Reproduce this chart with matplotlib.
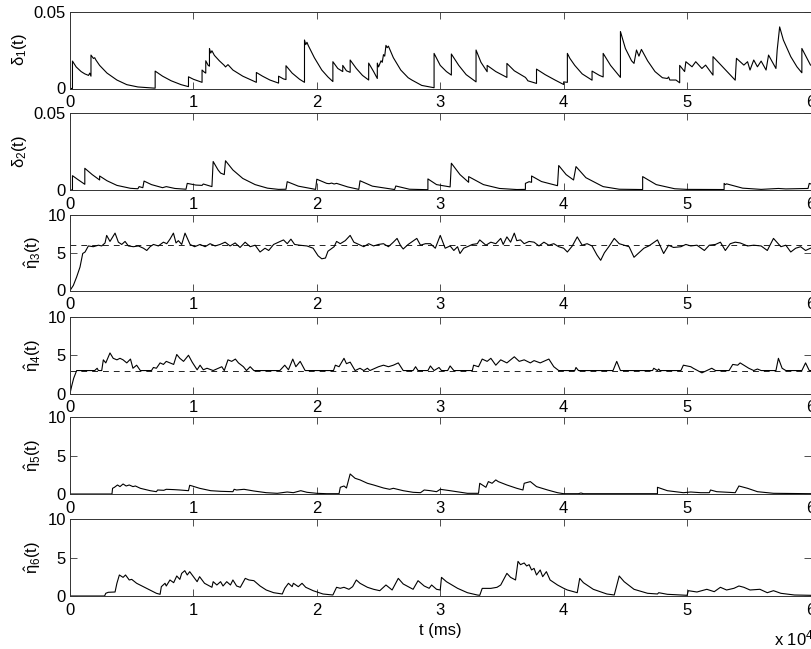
import numpy as np
import matplotlib
matplotlib.use("Agg")
import matplotlib.pyplot as plt

plt.rcParams["font.family"] = ["Liberation Sans", "DejaVu Sans"]
plt.rcParams["mathtext.fontset"] = "custom"
plt.rcParams["mathtext.rm"] = "Liberation Sans"
plt.rcParams["mathtext.it"] = "Liberation Sans"
plt.rcParams["font.size"] = 12

# time in units of 1e4 ms
delta1 = [(0.00, 0), (0.02, 0), (0.02, 0.0178), (0.05, 0.0140), (0.09, 0.0110), (0.12, 0.0095),
          (0.15, 0.0085), (0.16, 0.0100), (0.17, 0.0080), (0.17, 0.0217), (0.19, 0.0195), (0.20, 0.0200),
          (0.21, 0.0185), (0.24, 0.0150), (0.30, 0.0100), (0.38, 0.0055), (0.46, 0.0025), (0.55, 0.0010),
          (0.69, 0.0002), (0.69, 0.0113), (0.75, 0.0080), (0.82, 0.0050), (0.90, 0.0025), (0.96, 0.0012),
          (0.96, 0.0076), (1.00, 0.0060), (1.07, 0.0040), (1.07, 0.0120), (1.09, 0.0105), (1.10, 0.0100),
          (1.10, 0.0180), (1.12, 0.0150), (1.13, 0.0145), (1.13, 0.0260), (1.14, 0.0230), (1.15, 0.0245),
          (1.17, 0.0215), (1.21, 0.0180), (1.25, 0.0150), (1.26, 0.0140), (1.28, 0.0155), (1.32, 0.0120),
          (1.40, 0.0080), (1.51, 0.0040), (1.51, 0.0104), (1.56, 0.0080), (1.62, 0.0055), (1.69, 0.0035),
          (1.69, 0.0080), (1.73, 0.0062), (1.75, 0.0058), (1.75, 0.0148), (1.80, 0.0100), (1.86, 0.0060),
          (1.90, 0.0040), (1.90, 0.0315), (1.91, 0.0285), (1.92, 0.0300), (1.93, 0.0280), (1.98, 0.0200),
          (2.04, 0.0120), (2.09, 0.0075), (2.13, 0.0045), (2.13, 0.0174), (2.17, 0.0130), (2.21, 0.0110),
          (2.21, 0.0150), (2.24, 0.0115), (2.27, 0.0105), (2.27, 0.0185), (2.32, 0.0130), (2.37, 0.0085),
          (2.42, 0.0055), (2.42, 0.0165), (2.46, 0.0110), (2.49, 0.0065), (2.49, 0.0165), (2.50, 0.0140),
          (2.52, 0.0180), (2.53, 0.0170), (2.54, 0.0220), (2.55, 0.0210), (2.56, 0.0280), (2.57, 0.0265),
          (2.58, 0.0275), (2.62, 0.0200), (2.68, 0.0120), (2.74, 0.0070), (2.76, 0.0060), (2.77, 0.0055),
          (2.85, 0.0020), (2.95, 0.0005), (2.95, 0.0228), (3.00, 0.0150), (3.05, 0.0110), (3.09, 0.0087),
          (3.09, 0.0224), (3.15, 0.0150), (3.21, 0.0090), (3.29, 0.0043), (3.29, 0.0250), (3.33, 0.0170),
          (3.38, 0.0109), (3.38, 0.0150), (3.45, 0.0110), (3.54, 0.0072), (3.54, 0.0163), (3.60, 0.0115),
          (3.69, 0.0072), (3.70, 0.0062), (3.71, 0.0050), (3.78, 0.0033), (3.78, 0.0126), (3.85, 0.0090),
          (3.93, 0.0055), (4.00, 0.0026), (4.00, 0.0043), (4.03, 0.0040), (4.03, 0.0228), (4.05, 0.0196),
          (4.09, 0.0150), (4.15, 0.0095), (4.23, 0.0054), (4.23, 0.0113), (4.29, 0.0085), (4.32, 0.0075),
          (4.32, 0.0228), (4.38, 0.0150), (4.46, 0.0072), (4.46, 0.0370), (4.50, 0.0260), (4.55, 0.0180),
          (4.57, 0.0163), (4.59, 0.0250), (4.61, 0.0210), (4.63, 0.0254), (4.68, 0.0180), (4.74, 0.0110),
          (4.80, 0.0070), (4.84, 0.0065), (4.85, 0.0075), (4.86, 0.0055), (4.91, 0.0055), (4.94, 0.0037),
          (4.94, 0.0150), (4.98, 0.0110), (4.99, 0.0174), (5.04, 0.0141), (5.07, 0.0174), (5.12, 0.0130),
          (5.15, 0.0152), (5.21, 0.0087), (5.21, 0.0207), (5.30, 0.0130), (5.39, 0.0054), (5.40, 0.0196),
          (5.46, 0.0152), (5.49, 0.0174), (5.51, 0.0120), (5.54, 0.0185), (5.57, 0.0141), (5.60, 0.0178),
          (5.64, 0.0120), (5.66, 0.0217), (5.72, 0.0130), (5.73, 0.0250), (5.75, 0.0400), (5.78, 0.0315),
          (5.84, 0.0207), (5.89, 0.0141), (5.93, 0.0102), (5.93, 0.0260), (6.00, 0.0152)]

delta2 = [(0.00, 0), (0.02, 0), (0.02, 0.0093), (0.06, 0.0070), (0.12, 0.0037), (0.12, 0.0141),
          (0.18, 0.0100), (0.24, 0.0065), (0.24, 0.0091), (0.30, 0.0060), (0.38, 0.0030), (0.49, 0.0011),
          (0.55, 0.0008), (0.56, 0.0022), (0.59, 0.0015), (0.60, 0.0058), (0.66, 0.0035), (0.75, 0.0015),
          (0.78, 0.0022), (0.85, 0.0010), (0.94, 0.0005), (0.95, 0.0043), (1.02, 0.0032), (1.07, 0.0030),
          (1.08, 0.0039), (1.15, 0.0022), (1.16, 0.0185), (1.20, 0.0130), (1.22, 0.0110), (1.25, 0.0100),
          (1.26, 0.0190), (1.32, 0.0130), (1.40, 0.0075), (1.50, 0.0035), (1.60, 0.0012), (1.69, 0.0004),
          (1.75, 0.0005), (1.76, 0.0054), (1.85, 0.0025), (1.99, 0.0004), (2.00, 0.0070), (2.08, 0.0043),
          (2.10, 0.0041), (2.12, 0.0045), (2.14, 0.0039), (2.16, 0.0043), (2.25, 0.0020), (2.34, 0.0004),
          (2.35, 0.0060), (2.45, 0.0025), (2.63, 0.0003), (2.64, 0.0026), (2.75, 0.0005), (2.90, 0.0002),
          (2.90, 0.0072), (2.97, 0.0035), (3.08, 0.0020), (3.09, 0.0174), (3.16, 0.0100), (3.23, 0.0050),
          (3.23, 0.0087), (3.35, 0.0035), (3.48, 0.0010), (3.62, 0.0003), (3.69, 0.0004), (3.69, 0.0043),
          (3.72, 0.0054), (3.74, 0.0050), (3.74, 0.0091), (3.82, 0.0055), (3.95, 0.0028), (3.96, 0.0159),
          (4.02, 0.0100), (4.08, 0.0065), (4.10, 0.0152), (4.18, 0.0080), (4.30, 0.0030), (4.32, 0.0022),
          (4.45, 0.0005), (4.64, 0.0003), (4.64, 0.0087), (4.75, 0.0035), (4.90, 0.0008), (5.00, 0.0004),
          (5.30, 0.0003), (5.30, 0.0043), (5.31, 0.0035), (5.32, 0.0040), (5.45, 0.0012), (5.60, 0.0004),
          (5.74, 0.0010), (5.80, 0.0007), (5.98, 0.0010), (5.99, 0.0043), (6.00, 0.0040)]

eta3 = [(0.00, 0), (0.027, 0.67), (0.054, 1.8), (0.081, 3.1), (0.103, 4.9), (0.122, 5.1), (0.149, 5.9),
        (0.189, 5.8), (0.23, 6.0), (0.257, 5.9), (0.284, 6.3), (0.297, 7.3), (0.324, 6.5), (0.365, 7.6),
        (0.392, 6.4), (0.419, 6.1), (0.446, 6.5), (0.473, 5.9), (0.514, 5.8), (0.554, 5.9), (0.595, 5.6),
        (0.622, 5.3), (0.649, 5.8), (0.676, 6.1), (0.716, 5.9), (0.757, 6.4), (0.784, 6.2), (0.81, 6.8),
        (0.838, 7.6), (0.859, 6.3), (0.878, 6.6), (0.905, 6.1), (0.932, 7.6), (0.973, 6.1), (1.01, 5.8),
        (1.054, 6.1), (1.095, 5.8), (1.135, 6.2), (1.176, 5.9), (1.216, 6.1), (1.257, 6.4), (1.297, 5.9),
        (1.338, 6.3), (1.378, 5.7), (1.419, 6.4), (1.46, 5.8), (1.50, 6.0), (1.54, 5.1), (1.58, 5.6),
        (1.61, 5.3), (1.65, 6.1), (1.69, 6.4), (1.73, 6.7), (1.76, 6.2), (1.79, 6.8), (1.82, 6.1),
        (1.86, 6.0), (1.92, 5.9), (1.97, 5.6), (2.01, 4.6), (2.04, 4.2), (2.07, 4.3), (2.09, 5.2),
        (2.14, 5.8), (2.16, 6.5), (2.19, 6.2), (2.23, 6.6), (2.27, 7.3), (2.30, 6.4), (2.34, 6.1),
        (2.38, 5.8), (2.42, 6.2), (2.46, 5.9), (2.50, 6.1), (2.54, 6.2), (2.58, 5.8), (2.62, 6.4),
        (2.65, 6.9), (2.68, 5.9), (2.70, 5.5), (2.74, 6.1), (2.81, 6.9), (2.84, 6.0), (2.88, 6.2),
        (2.92, 6.2), (2.96, 5.6), (3.00, 7.3), (3.04, 5.6), (3.08, 5.9), (3.11, 5.3), (3.14, 5.8),
        (3.16, 4.9), (3.19, 5.6), (3.22, 5.8), (3.26, 6.1), (3.30, 6.2), (3.32, 6.7), (3.37, 6.0),
        (3.41, 6.4), (3.45, 6.2), (3.49, 6.9), (3.51, 6.1), (3.54, 7.1), (3.57, 6.4), (3.60, 7.6),
        (3.62, 6.6), (3.65, 6.7), (3.68, 6.2), (3.72, 6.5), (3.76, 6.4), (3.80, 5.9), (3.84, 6.4),
        (3.88, 6.0), (3.92, 6.2), (3.96, 5.8), (4.00, 5.6), (4.03, 5.1), (4.07, 5.9), (4.11, 7.1),
        (4.15, 6.0), (4.19, 6.2), (4.23, 5.9), (4.27, 4.7), (4.30, 4.0), (4.33, 5.0), (4.37, 5.9),
        (4.41, 6.9), (4.45, 6.2), (4.49, 6.0), (4.53, 5.8), (4.57, 4.4), (4.61, 5.0), (4.65, 5.6),
        (4.69, 5.9), (4.76, 6.7), (4.81, 4.9), (4.85, 6.0), (4.89, 5.7), (4.95, 5.8), (4.99, 6.1),
        (5.03, 5.9), (5.08, 6.0), (5.14, 5.3), (5.18, 6.0), (5.23, 6.1), (5.27, 6.4), (5.31, 5.3),
        (5.35, 6.2), (5.39, 6.4), (5.43, 6.3), (5.49, 5.9), (5.54, 6.0), (5.60, 5.9), (5.65, 5.3),
        (5.70, 6.9), (5.76, 5.8), (5.80, 6.0), (5.84, 5.1), (5.88, 5.6), (5.92, 5.8), (5.96, 5.3),
        (6.00, 5.6)]

eta4 = [(0.00, 0), (0.014, 1.0), (0.03, 2.0), (0.054, 3.0), (0.20, 3.0), (0.22, 3.3), (0.23, 3.0),
        (0.257, 3.0), (0.27, 4.4), (0.29, 4.0), (0.324, 5.3), (0.35, 4.6), (0.38, 4.4), (0.405, 4.6),
        (0.43, 4.4), (0.46, 4.0), (0.49, 4.5), (0.51, 3.3), (0.54, 3.7), (0.57, 3.0), (0.66, 3.0),
        (0.676, 3.4), (0.70, 3.3), (0.73, 4.0), (0.757, 3.8), (0.78, 4.2), (0.81, 4.0), (0.84, 3.8),
        (0.865, 5.1), (0.89, 4.6), (0.92, 4.2), (0.96, 5.0), (0.99, 4.1), (1.03, 3.1), (1.054, 3.7),
        (1.08, 3.1), (1.11, 3.3), (1.16, 3.0), (1.23, 3.5), (1.25, 3.0), (1.28, 4.4), (1.31, 4.2),
        (1.34, 4.5), (1.365, 4.0), (1.405, 3.5), (1.43, 3.0), (1.46, 3.5), (1.49, 3.0), (1.70, 3.0),
        (1.74, 3.7), (1.77, 3.1), (1.805, 4.5), (1.83, 3.5), (1.865, 4.2), (1.905, 3.0), (2.135, 3.0),
        (2.15, 3.7), (2.18, 3.5), (2.22, 4.6), (2.24, 3.9), (2.27, 4.1), (2.31, 3.0), (2.35, 3.3),
        (2.38, 3.0), (2.41, 3.3), (2.43, 3.0), (2.50, 3.5), (2.54, 3.7), (2.58, 3.5), (2.62, 3.7),
        (2.66, 4.0), (2.70, 3.0), (2.78, 3.0), (2.80, 3.5), (2.82, 3.0), (2.90, 3.0), (2.92, 3.6),
        (2.95, 3.0), (2.99, 3.4), (3.01, 3.0), (3.06, 3.0), (3.08, 3.6), (3.11, 3.0), (3.26, 3.0),
        (3.27, 3.7), (3.31, 3.5), (3.34, 4.5), (3.38, 4.2), (3.41, 4.6), (3.45, 3.7), (3.49, 4.4),
        (3.54, 4.0), (3.60, 4.8), (3.64, 4.2), (3.68, 4.4), (3.73, 4.0), (3.76, 4.3), (3.81, 4.0),
        (3.88, 4.5), (3.92, 3.5), (3.96, 3.0), (4.09, 3.0), (4.10, 3.4), (4.12, 3.0), (4.40, 3.0),
        (4.43, 4.2), (4.46, 3.0), (4.72, 3.0), (4.73, 3.3), (4.76, 3.0), (4.77, 3.2), (4.78, 3.0),
        (4.95, 3.0), (4.97, 3.7), (5.03, 3.5), (5.05, 3.3), (5.12, 2.7), (5.20, 3.3), (5.23, 3.0),
        (5.34, 3.0), (5.37, 3.8), (5.41, 3.7), (5.43, 4.0), (5.46, 3.7), (5.50, 3.3), (5.54, 3.0),
        (5.57, 3.2), (5.60, 3.0), (5.72, 3.0), (5.74, 4.6), (5.77, 3.3), (5.80, 3.0), (5.93, 3.0),
        (5.96, 4.0), (5.99, 3.0), (6.00, 3.0)]

eta5 = [(0.00, 0), (0.34, 0), (0.345, 0.74), (0.36, 0.87), (0.385, 1.17), (0.405, 0.96), (0.43, 1.3),
        (0.455, 1.04), (0.48, 1.17), (0.51, 0.96), (0.53, 1.04), (0.57, 0.74), (0.65, 0.43), (0.70, 0.30),
        (0.71, 0.52), (0.76, 0.48), (0.78, 0.61), (0.84, 0.57), (0.89, 0.52), (0.96, 0.43), (0.97, 1.13),
        (0.99, 1.04), (1.05, 0.74), (1.14, 0.43), (1.22, 0.35), (1.32, 0.30), (1.33, 0.61), (1.35, 0.52),
        (1.41, 0.61), (1.49, 0.39), (1.59, 0.17), (1.68, 0.09), (1.76, 0.26), (1.81, 0.17), (1.87, 0.43),
        (1.92, 0.22), (2.00, 0.09), (2.08, 0.04), (2.18, 0.04), (2.19, 0.87), (2.22, 1.04), (2.24, 0.78),
        (2.27, 2.6), (2.31, 2.04), (2.35, 1.83), (2.41, 1.39), (2.46, 1.17), (2.54, 0.78), (2.59, 0.61),
        (2.62, 0.74), (2.70, 0.43), (2.78, 0.22), (2.84, 0.17), (2.87, 0.52), (2.92, 0.43), (2.97, 0.30),
        (3.00, 0.61), (3.08, 0.43), (3.22, 0.09), (3.31, 0.09), (3.32, 1.39), (3.37, 0.87), (3.39, 1.61),
        (3.42, 1.39), (3.45, 1.83), (3.47, 1.61), (3.54, 1.17), (3.62, 0.74), (3.67, 0.52), (3.68, 1.39),
        (3.70, 1.48), (3.73, 1.61), (3.78, 0.96), (3.87, 0.52), (3.95, 0.17), (4.00, 0.04), (4.12, 0.04),
        (4.14, 0.13), (4.16, 0.04), (4.76, 0.04), (4.76, 0.87), (4.84, 0.43), (4.97, 0.17), (5.03, 0.26),
        (5.11, 0.17), (5.18, 0.17), (5.19, 0.52), (5.24, 0.30), (5.39, 0.17), (5.42, 1.04), (5.49, 0.74),
        (5.57, 0.30), (5.70, 0.09), (6.00, 0.04)]

eta6 = [(0.00, 0), (0.28, 0), (0.29, 0.35), (0.31, 0.48), (0.365, 0.52), (0.38, 1.65), (0.40, 2.73),
        (0.43, 2.42), (0.45, 2.73), (0.48, 2.08), (0.50, 2.16), (0.54, 1.65), (0.62, 1.0), (0.70, 0.35),
        (0.73, 0.22), (0.74, 1.21), (0.77, 1.65), (0.78, 1.30), (0.81, 2.08), (0.84, 1.73), (0.865, 2.6),
        (0.89, 2.16), (0.905, 2.94), (0.93, 3.29), (0.95, 2.73), (0.97, 3.16), (1.00, 2.51), (1.03, 1.86),
        (1.05, 2.51), (1.09, 1.65), (1.15, 1.13), (1.16, 1.86), (1.19, 1.43), (1.22, 1.86), (1.24, 1.30),
        (1.27, 1.86), (1.30, 1.43), (1.32, 2.08), (1.35, 1.30), (1.38, 1.13), (1.42, 2.29), (1.45, 2.08),
        (1.49, 1.99), (1.54, 1.30), (1.59, 0.78), (1.65, 0.43), (1.72, 0.26), (1.74, 1.0), (1.77, 1.65),
        (1.80, 1.21), (1.81, 1.65), (1.85, 1.21), (1.88, 1.65), (1.91, 1.13), (1.97, 0.69), (2.05, 0.26),
        (2.13, 0.13), (2.16, 1.13), (2.19, 1.0), (2.22, 1.13), (2.26, 0.87), (2.29, 1.21), (2.32, 2.08),
        (2.35, 1.65), (2.41, 1.13), (2.46, 0.87), (2.51, 0.69), (2.56, 1.43), (2.61, 0.78), (2.66, 2.29),
        (2.70, 1.56), (2.78, 0.87), (2.82, 1.99), (2.87, 1.30), (2.91, 1.0), (2.93, 1.43), (2.97, 0.87),
        (3.00, 0.78), (3.01, 2.42), (3.05, 1.86), (3.14, 1.0), (3.22, 0.43), (3.30, 0.13), (3.32, 0.09),
        (3.34, 0.99), (3.41, 0.99), (3.46, 1.13), (3.49, 1.43), (3.54, 2.94), (3.57, 2.42), (3.61, 2.08),
        (3.63, 4.5), (3.65, 4.07), (3.68, 4.29), (3.70, 3.9), (3.72, 4.07), (3.74, 3.38), (3.76, 3.59),
        (3.78, 2.73), (3.81, 3.38), (3.83, 2.51), (3.86, 3.16), (3.89, 2.08), (3.95, 1.43), (4.00, 1.0),
        (4.03, 0.78), (4.11, 0.43), (4.13, 2.29), (4.16, 1.73), (4.24, 0.87), (4.35, 0.26), (4.41, 0.13),
        (4.45, 2.6), (4.49, 1.86), (4.57, 0.87), (4.68, 0.35), (4.76, 0.26), (4.77, 0.43), (4.84, 0.22),
        (5.00, 0.09), (5.01, 0.69), (5.08, 0.52), (5.16, 0.87), (5.22, 0.56), (5.27, 1.13), (5.32, 0.78),
        (5.38, 1.0), (5.42, 1.30), (5.46, 1.13), (5.51, 0.78), (5.59, 0.87), (5.65, 0.43), (5.70, 0.69),
        (5.76, 0.35), (5.87, 0.13), (6.00, 0.09)]

series = [delta1, delta2, eta3, eta4, eta5, eta6]
labels = [r"$\delta_1$(t)", r"$\delta_2$(t)", r"$\hat{\eta}_3$(t)",
          r"$\hat{\eta}_4$(t)", r"$\hat{\eta}_5$(t)", r"$\hat{\eta}_6$(t)"]
ylims = [(0, 0.05), (0, 0.05), (0, 10), (0, 10), (0, 10), (0, 10)]
yticks = [[0, 0.05], [0, 0.05], [0, 5, 10], [0, 5, 10], [0, 5, 10], [0, 5, 10]]
yticklabels = [["0", "0.05"], ["0", "0.05"], ["0", "5", "10"], ["0", "5", "10"],
               ["0", "5", "10"], ["0", "5", "10"]]
ref_level = [None, None, 6, 3, None, None]
xticks = [0, 1, 2, 3, 4, 5, 6]

W, H = 811, 649
fig = plt.figure(figsize=(W / 100, H / 100), dpi=100)
boxes = [(11.5, 88.5), (113, 190), (215, 290.5), (317, 393.5), (417, 494), (519, 596)]
x0, x1 = 70, 810.5

for i, (top, bot) in enumerate(boxes):
    ax = fig.add_axes([x0 / W, 1 - bot / H, (x1 - x0) / W, (bot - top) / H])
    t = np.array([p[0] for p in series[i]])
    v = np.array([p[1] for p in series[i]])
    if ref_level[i] is not None:
        ax.axhline(ref_level[i], color="k", lw=0.6, ls=(0, (7, 6)))
    ax.plot(t, v, color="k", lw=0.8)
    ax.set_xlim(0, 6)
    ax.set_ylim(*ylims[i])
    ax.set_xticks(xticks)
    ax.set_xticklabels([str(x) for x in xticks])
    ax.set_yticks(yticks[i])
    ax.set_yticklabels(yticklabels[i])
    ax.tick_params(direction="in", top=True, right=True, length=5, width=0.6,
                   labelsize=12, pad=3, color="#333333")
    ax.tick_params(axis="x", pad=5)
    for s in ax.spines.values():
        s.set_linewidth(0.7)
        s.set_color("#333333")
    ax.set_ylabel(labels[i], fontsize=12, labelpad=3)

fig.text(440 / W, 1 - 631 / H, "t (ms)", ha="center", va="center", fontsize=12)
fig.text(774 / W, 1 - 638 / H, r"x 10$^4$", ha="left", va="center", fontsize=12)

fig.savefig("out.png", dpi=100)
